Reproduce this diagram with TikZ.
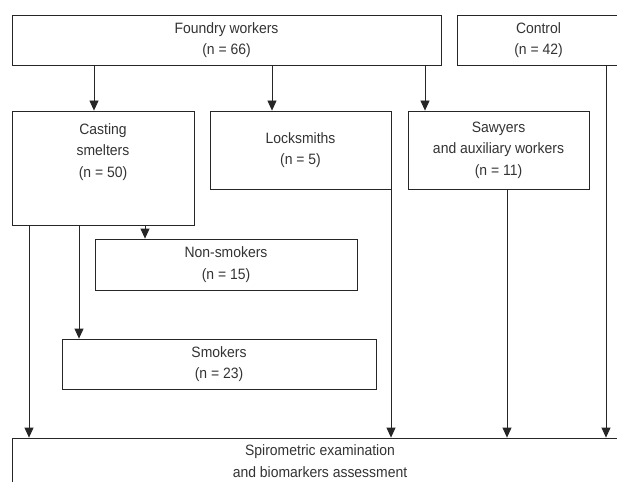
\documentclass[tikz,border=0pt]{standalone}
\usepackage{fontspec}
\setmainfont[FakeStretch=0.93]{Liberation Sans}
\usetikzlibrary{arrows.meta}

\begin{document}
\begin{tikzpicture}[x=1pt,y=-1pt,font=\fontsize{15}{21.5}\selectfont,text=black!80]
            \tikzstyle{box}=[draw=black!85,line width=0.8pt,align=center,inner sep=0pt]
            \tikzstyle{txt}=[align=center,inner sep=0pt]
            \tikzstyle{arr}=[draw=black!85,line width=0.8pt,-{Triangle[length=10pt,width=9pt]}]
            \useasboundingbox (0,0) rectangle (617,481);
            \clip (0,0) rectangle (617,481);

            \node[box,minimum width=429pt,minimum height=50pt] (foundry) at (226.5,40) {Foundry workers\\(n = 66)};
            \node[box,minimum width=163pt,minimum height=50pt] (control) at (538.5,40) {Control\\(n = 42)};

            \node[box,minimum width=182pt,minimum height=114pt] (casting) at (103,168) {};
            \node[txt] (casting-text) at (103,152) {Casting\\smelters\\(n = 50)};
            \node[box,minimum width=181pt,minimum height=78pt] (locksmiths) at (300.5,150) {Locksmiths\\(n = 5)};
            \node[box,minimum width=181pt,minimum height=78pt] (sawyers) at (498.5,150) {Sawyers\\and auxiliary workers\\(n = 11)};

            \node[box,minimum width=262pt,minimum height=51pt] (nonsmokers) at (226,264.5) {Non-smokers\\(n = 15)};
            \node[box,minimum width=314pt,minimum height=50pt] (smokers) at (219,364) {Smokers\\(n = 23)};

            \node[box,minimum width=616pt,minimum height=46pt] (final) at (320,461) {Spirometric examination\\and biomarkers assessment};

            % arrows, each at its own x
            \foreach \from/\to/\x in {foundry/casting/94, foundry/locksmiths/272, foundry/sawyers/425,
                                      casting/final/29, casting/smokers/79, casting/nonsmokers/145,
                                      locksmiths/final/391, sawyers/final/507, control/final/606}
                \draw[arr] (\from.south -| \x,0) -- (\to.north -| \x,0);
\end{tikzpicture}
\end{document}
